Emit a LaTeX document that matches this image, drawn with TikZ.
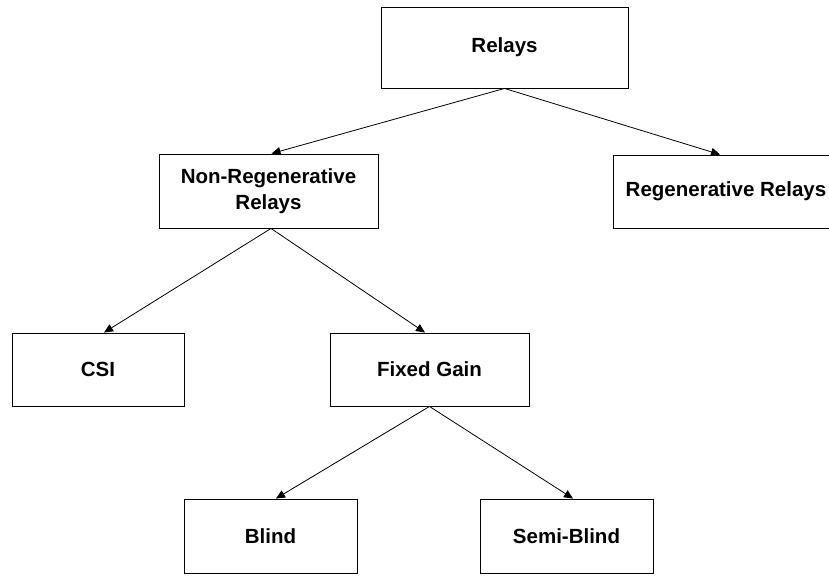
\documentclass[tikz,border=0pt]{standalone}
\usepackage{fontspec}
\setmainfont{Liberation Sans}
\usetikzlibrary{arrows.meta}
\tikzset{
  box/.style={draw, line width=0.9pt, fill=white, inner sep=0pt, align=center,
    font=\bfseries\fontsize{20.5}{26.5}\selectfont},
  link/.style={line width=0.8pt, -{Triangle[length=9pt,width=8pt]}}
}
\begin{document}
\begin{tikzpicture}[x=1pt,y=-1pt]
  \useasboundingbox (0,0) rectangle (829,575);
  \clip (0,0) rectangle (829,575);
  \fill[white] (0,0) rectangle (829,575);
  % tree of relay types
  \node[box, minimum width=247pt, minimum height=81pt] (relays) at (504.5,47.5) {Relays};
  \node[box, minimum width=219pt, minimum height=74pt] (nonreg) at (268.5,191) {Non-Regenerative\\Relays};
  \node[box, minimum width=226pt, minimum height=73pt] (regen) at (726,191.5) {Regenerative Relays};
  \node[box, minimum width=172pt, minimum height=73pt] (csi) at (98,369.5) {CSI};
  \node[box, minimum width=199pt, minimum height=73pt] (fixed) at (429.5,369.5) {Fixed Gain};
  \node[box, minimum width=173pt, minimum height=74pt] (blind) at (270.5,536) {Blind};
  \node[box, minimum width=173pt, minimum height=74pt] (semi) at (566.5,536) {Semi-Blind};
  % connectors
  \draw[link] (relays.south) -- ([xshift=3pt]nonreg.north);
  \draw[link] (relays.south) -- ([xshift=-6pt]regen.north);
  \draw[link] ([xshift=2.5pt]nonreg.south) -- ([xshift=6pt]csi.north);
  \draw[link] ([xshift=2.5pt]nonreg.south) -- ([xshift=-4.5pt]fixed.north);
  \draw[link] (fixed.south) -- ([xshift=5.5pt]blind.north);
  \draw[link] (fixed.south) -- ([xshift=6.5pt]semi.north);
\end{tikzpicture}
\end{document}
